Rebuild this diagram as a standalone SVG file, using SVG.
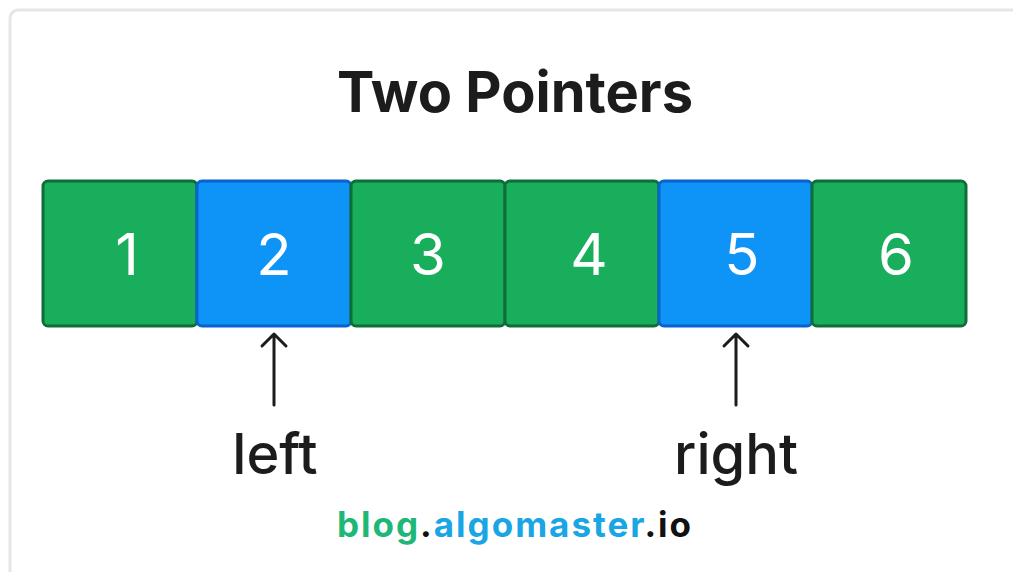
<svg xmlns="http://www.w3.org/2000/svg" width="1013" height="572" viewBox="0 0 1013 572">
  <style>
    .cell-g { fill: #19ae5c; stroke: #0f6e38; stroke-width: 3; }
    .cell-b { fill: #0e93f7; stroke: #0a62cf; stroke-width: 3; }
    .num { font-family: Inter, "Liberation Sans", sans-serif; font-size: 58px; font-weight: 400; fill: #ffffff; text-anchor: middle; }
    .ptr { font-family: Inter, "Liberation Sans", sans-serif; font-size: 56px; font-weight: 500; fill: #1c1c1c; text-anchor: middle; }
    .arrow { stroke: #1c1c1c; stroke-width: 3; fill: none; stroke-linecap: round; stroke-linejoin: round; }
  </style>
  <rect x="0" y="0" width="1013" height="572" fill="#ffffff"/>
  <rect x="10" y="10" width="1030" height="600" rx="8" fill="#ffffff" stroke="#e6e6e6" stroke-width="3"/>

  <text x="515" y="112" font-family="Inter, 'Liberation Sans', sans-serif" font-size="56" font-weight="700" fill="#1c1c1c" text-anchor="middle">Two Pointers</text>

  <g id="cell-1"><rect class="cell-g" x="43" y="181" width="154" height="145" rx="5"/><text class="num" x="127" y="275">1</text></g>
  <g id="cell-2"><rect class="cell-b" x="197" y="181" width="154" height="145" rx="5"/><text class="num" x="274" y="275">2</text></g>
  <g id="cell-3"><rect class="cell-g" x="351" y="181" width="154" height="145" rx="5"/><text class="num" x="428" y="275">3</text></g>
  <g id="cell-4"><rect class="cell-g" x="505" y="181" width="154" height="145" rx="5"/><text class="num" x="589" y="275">4</text></g>
  <g id="cell-5"><rect class="cell-b" x="659" y="181" width="153" height="145" rx="5"/><text class="num" x="742" y="275">5</text></g>
  <g id="cell-6"><rect class="cell-g" x="812" y="181" width="154" height="145" rx="5"/><text class="num" x="896" y="275">6</text></g>

  <g id="connectors">
    <path class="arrow" d="M274 405 V334 M262 346 L274 334 L286 346"/>
    <path class="arrow" d="M736 405 V334 M724 346 L736 334 L748 346"/>
  </g>

  <g id="label-left"><text class="ptr" x="275" y="474">left</text></g>
  <g id="label-right"><text class="ptr" x="736" y="474">right</text></g>

  <text x="515" y="537" font-family="Inter, 'Liberation Sans', sans-serif" font-size="35" font-weight="700" text-anchor="middle" letter-spacing="2"><tspan fill="#1db877">blog</tspan><tspan fill="#111111">.</tspan><tspan fill="#1aa6e4">algomaster</tspan><tspan fill="#111111">.io</tspan></text>
</svg>
